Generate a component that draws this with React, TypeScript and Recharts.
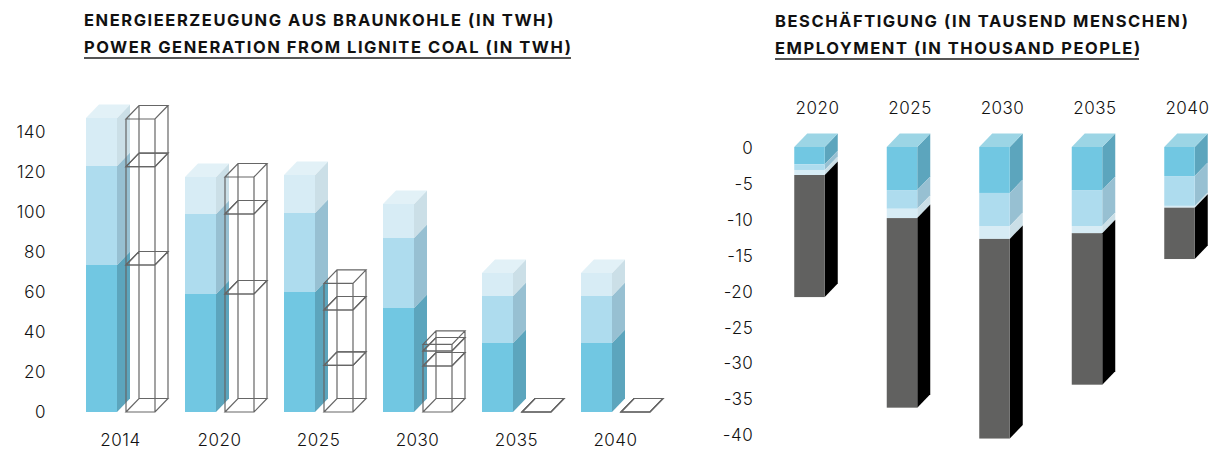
import { Bar, BarChart, XAxis, YAxis } from "recharts";

const powerYears = ["2014", "2020", "2025", "2030", "2035", "2040"];
const powerBase = [73.5, 59, 60, 52, 34.5, 34.5];
const powerMiddle = [49.5, 40, 39.5, 35, 23.5, 23.5];
const powerTop = [24, 18.5, 19, 17, 11.5, 11.5];
const wireBase = [73.5, 59, 23.3, 23, 0, 0];
const wireMiddle = [49.2, 40, 27.7, 7.5, 0, 0];
const wireTop = [23.8, 18.5, 13.3, 3.3, 0, 0];
const powerTicks = [0, 20, 40, 60, 80, 100, 120, 140];

const jobYears = ["2020", "2025", "2030", "2035", "2040"];
const jobDirect = [-2.4, -6, -6.4, -6, -4.05];
const jobIndirect = [-0.8, -2.6, -4.6, -5, -4.15];
const jobInduced = [-0.7, -1.3, -1.8, -1, -0.25];
const jobOther = [-17, -26.4, -27.8, -21.1, -7.15];
const jobTicks = [0, -5, -10, -15, -20, -25, -30, -35, -40];

const powerData = powerYears.map((year, i) => ({
    year,
    base: powerBase[i],
    middle: powerMiddle[i],
    top: powerTop[i],
    wireBase: wireBase[i],
    wireMiddle: wireMiddle[i],
    wireTop: wireTop[i],
}));

const jobData = jobYears.map((year, i) => ({
    year,
    direct: jobDirect[i],
    indirect: jobIndirect[i],
    induced: jobInduced[i],
    other: jobOther[i],
}));

const DEPTH_X = 13;
const DEPTH_Y = 13.5;
const TICK_STYLE = { fontFamily: "Inter", fontWeight: 300, fontSize: 17, letterSpacing: 0.5, fill: "#111111" };

const solidBox = (front: string, side: string, lid?: string) => (props: any) => {
    const x = props.x;
    const w = props.width;
    const y0 = Math.min(props.y, props.y + props.height);
    const y1 = Math.max(props.y, props.y + props.height);
    return (
        <g>
            <polygon
                points={`${x + w},${y0} ${x + w + DEPTH_X},${y0 - DEPTH_Y} ${x + w + DEPTH_X},${y1 - DEPTH_Y} ${x + w},${y1}`}
                fill={side}
            />
            <rect x={x} y={y0} width={w} height={y1 - y0} fill={front} />
            {lid && (
                <polygon
                    points={`${x},${y0} ${x + DEPTH_X},${y0 - DEPTH_Y} ${x + w + DEPTH_X},${y0 - DEPTH_Y} ${x + w},${y0}`}
                    fill={lid}
                />
            )}
        </g>
    );
};

const wireBox = (props: any) => {
    const x = props.x;
    const w = props.width;
    const y0 = Math.min(props.y, props.y + props.height);
    const y1 = Math.max(props.y, props.y + props.height);
    const d = `M${x},${y0}H${x + w}L${x + w + DEPTH_X},${y0 - DEPTH_Y}H${x + DEPTH_X}Z`
        + `M${x},${y1}H${x + w}L${x + w + DEPTH_X},${y1 - DEPTH_Y}H${x + DEPTH_X}Z`
        + `M${x},${y0}V${y1}M${x + w},${y0}V${y1}`
        + `M${x + DEPTH_X},${y0 - DEPTH_Y}V${y1 - DEPTH_Y}M${x + w + DEPTH_X},${y0 - DEPTH_Y}V${y1 - DEPTH_Y}`;
    return <path d={d} fill="none" stroke="#666666" strokeWidth={1.2} />;
};

const JobYearTick = ({ x, y, payload }: any) => (
    <text x={x + 8} y={y - 25} textAnchor="middle" {...TICK_STYLE}>
        {payload.value}
    </text>
);

const Title = ({ left, top, width, lines }: { left: number; top: number; width: number; lines: string[] }) => (
    <div style={{ position: "absolute", left, top, width, fontFamily: "Inter", fontWeight: 700, fontSize: 16.5, lineHeight: "27px", letterSpacing: 1.55, color: "#111111", whiteSpace: "nowrap", borderBottom: "2px solid #555555", height: 50 }}>
        {lines.map(line => <div key={line}>{line}</div>)}
    </div>
);

export default function App() {
    return (
        <div style={{ position: "absolute", left: 0, top: 0, width: 1215, height: 450, overflow: "hidden", background: "#fff" }}>
            <Title left={84} top={7} width={487} lines={["ENERGIEERZEUGUNG AUS BRAUNKOHLE (IN TWH)", "POWER GENERATION FROM LIGNITE COAL (IN TWH)"]} />
            <Title left={775} top={8} width={364} lines={["BESCHÄFTIGUNG (IN TAUSEND MENSCHEN)", "EMPLOYMENT (IN THOUSAND PEOPLE)"]} />

            <div style={{ position: "absolute", left: 0, top: 0 }}>
                <BarChart width={695} height={450} data={powerData} margin={{ top: 92, right: 30, bottom: 0, left: 0 }} barGap={9}>
                    <XAxis dataKey="year" height={38} axisLine={false} tickLine={false} tickMargin={16} tick={TICK_STYLE} interval={0} />
                    <YAxis type="number" domain={[0, 160]} ticks={powerTicks} width={71} axisLine={false} tickLine={false} tickMargin={19} tick={{ ...TICK_STYLE, dy: -0.5 }} interval={0} />
                    <Bar dataKey="base" stackId="solid" barSize={31} shape={solidBox("#71C7E2", "#5CA5BD")} isAnimationActive={false} />
                    <Bar dataKey="middle" stackId="solid" barSize={31} shape={solidBox("#AEDCEE", "#97C0D2")} isAnimationActive={false} />
                    <Bar dataKey="top" stackId="solid" barSize={31} shape={solidBox("#D7ECF5", "#CBDFE7", "#E2F1F7")} isAnimationActive={false} />
                    <Bar dataKey="wireBase" stackId="wire" barSize={29} shape={wireBox} isAnimationActive={false} />
                    <Bar dataKey="wireMiddle" stackId="wire" barSize={29} shape={wireBox} isAnimationActive={false} />
                    <Bar dataKey="wireTop" stackId="wire" barSize={29} shape={wireBox} isAnimationActive={false} />
                </BarChart>
            </div>

            <div style={{ position: "absolute", left: 700, top: 0 }}>
                <BarChart width={540} height={450} data={jobData} margin={{ top: 107, right: 14.25, bottom: 1.4, left: 0 }}>
                    <XAxis dataKey="year" orientation="top" height={40} axisLine={false} tickLine={false} tick={<JobYearTick />} interval={0} />
                    <YAxis type="number" domain={[-42, 0]} ticks={jobTicks} width={63.25} axisLine={false} tickLine={false} tickMargin={4} tick={{ ...TICK_STYLE, dy: 1 }} interval={0} />
                    <Bar dataKey="direct" stackId="jobs" barSize={30.5} shape={solidBox("#71C7E2", "#5CA5BD", "#9CD5E5")} isAnimationActive={false} />
                    <Bar dataKey="indirect" stackId="jobs" barSize={30.5} shape={solidBox("#AEDCEE", "#97C0D2")} isAnimationActive={false} />
                    <Bar dataKey="induced" stackId="jobs" barSize={30.5} shape={solidBox("#D7ECF5", "#CBDFE7")} isAnimationActive={false} />
                    <Bar dataKey="other" stackId="jobs" barSize={30.5} shape={solidBox("#616160", "#000000")} isAnimationActive={false} />
                </BarChart>
            </div>
        </div>
    );
}
